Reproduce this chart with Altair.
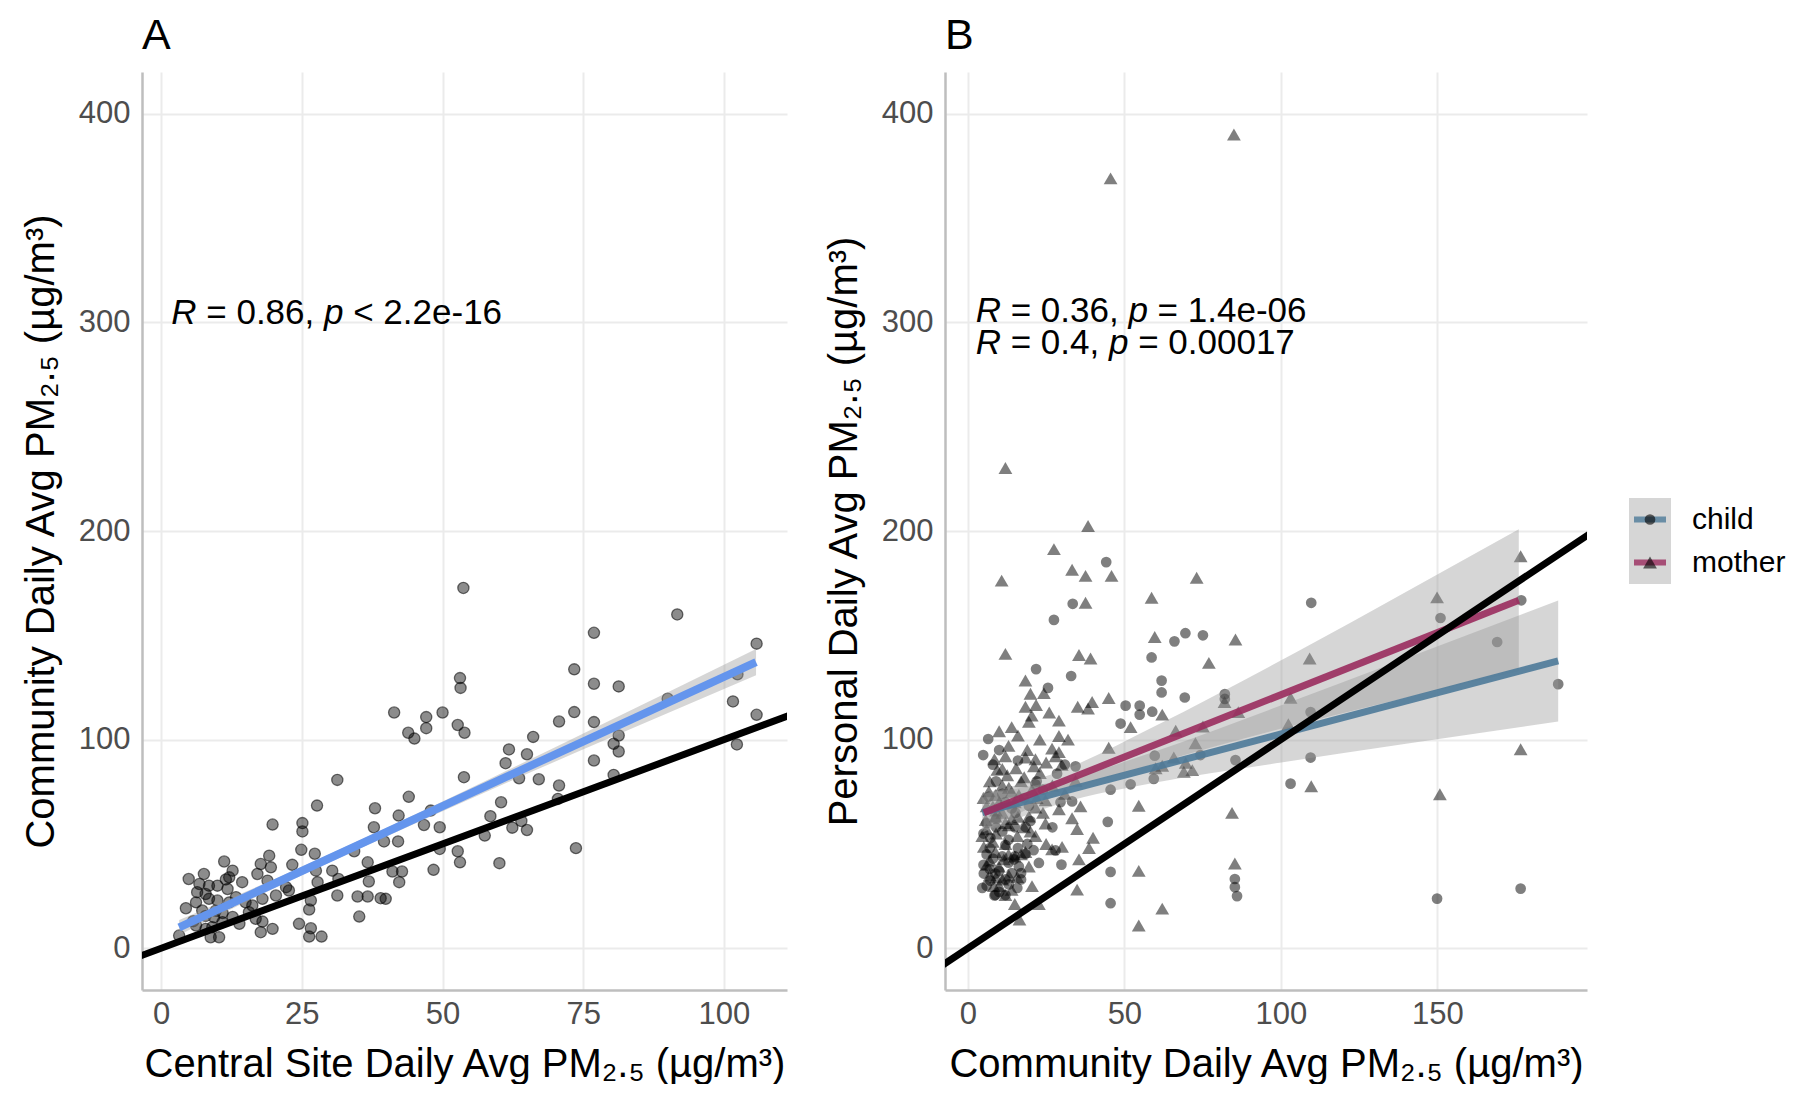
import altair as alt
import pandas as pd

FONT = "Liberation Sans"

# ---------------- Panel A data (Central site vs Community) ----------------
a_x = [53.7, 53.1, 53.2, 41.4, 47.1, 50, 47.1, 43.9, 45, 52.7, 53.9, 53.8, 31.3, 44, 27.7, 38, 42.2, 47.9,
       25.1, 25.1, 19.8, 37.8, 46.7, 49.5, 39.6, 42.1, 52.7, 53.1, 49.5, 24.9, 27.3, 34.3, 36.7, 23.3, 19.2,
       30.4, 27.5, 27.8, 31.5, 36.9, 41.1, 42.8, 42.3, 48.4, 31.3, 34.9, 36.7, 39, 39.9, 35.2, 26.6, 26.3,
       24.5, 26.6, 26.3, 28.5, 17.7, 19.8, 18, 16.8, 11.2, 7.6, 4.9, 12.7, 12.1, 14.4, 17.7, 19.5, 17.1, 18.9,
       22.2, 22.7, 6.8, 8.5, 7.9, 6.4, 11.8, 13.3, 12.1, 10, 4.4, 3.2, 7.3, 9.4, 8.8, 10.3, 10.9, 13.9, 15.6,
       20.4, 18, 16.2, 6.2, 7.9, 9.1, 5.7, 9.7, 10.9, 12.7, 7.9, 15, 8.5, 6.2, 10, 11.5,
       91.7, 76.9, 105.8, 73.4, 76.9, 81.3, 102.4, 90, 101.6, 105.8, 73.4, 70.7, 76.9, 81.3, 80.4, 81.3, 102.3,
       76.9, 80.4, 70.7, 73.7,
       61.8, 61.2, 65, 66.1, 67.1, 63.6, 60.4, 64, 62.4, 65, 70.5, 60.1, 57.5, 58.5]
a_y = [172.7, 129.5, 124.8, 113, 110.8, 113, 105.5, 103.3, 100.5, 107, 103.3, 82, 80.7, 72.6, 68.4, 67.1, 63.6, 66,
       60, 56, 59.3, 58, 59.1, 58, 51.2, 51.2, 46.5, 41.2, 47.6, 47.2, 45.3, 46.5, 41.2, 40, 44.4,
       37.2, 37.2, 31.7, 33.2, 32, 36.8, 36.8, 31.7, 37.6, 25.3, 24.8, 24.8, 24, 23.7, 15.2, 22.9, 18.6,
       11.7, 9.6, 5.6, 5.6, 7.7, 9.3, 12.8, 14.1, 41.6, 35.6, 33.2, 37.2, 34, 31.7, 40.4, 38.8, 35.6, 32.4,
       29.3, 27.7, 30.8, 30, 26, 26.9, 28.4, 24.5, 22, 22.9, 19.2, 6.1, 18.1, 14.9, 5.3, 5.3, 12.5, 11.7, 17.3,
       25.3, 23.7, 20.5, 10.9, 9.3, 10.1, 13, 18, 16.9, 15, 15.5, 22, 23.7, 22, 30, 33,
       160, 151.2, 146, 133.7, 126.8, 125.5, 131.3, 119.6, 118.3, 111.9, 113.2, 108.7, 108.4, 102, 98, 94.3, 97.7,
       90, 83.1, 78, 48,
       95.3, 88.7, 93, 101.3, 81, 81.5, 70, 61, 57.8, 56.7, 71.6, 40.8, 54, 63.3]

# fitted line and confidence band
fit_a_x = [3.2, 105.7]
fit_a_y = [10.0, 137.2]
band_a_x = [3.2, 20, 40, 60, 80, 105.7]
band_a_lo = [6.4, 28.6, 53.6, 77.7, 101.1, 130.9]
band_a_hi = [13.6, 33.0, 57.6, 83.3, 109.5, 143.5]

# 1:1 reference line
ident = [-20, 420]

# ---------------- Panel B data (Community vs Personal) ----------------
child_x = [44.2, 33.5, 27.5, 66, 69.5, 75.1, 58.7, 21.8, 33, 25.6, 61.9, 61.9, 69.3, 50.4, 54.9, 54.9, 58.9, 48.8,
           82.1, 82.1, 6.5, 4.9, 59.7, 74.3, 52, 59.4, 45.6, 85.5, 34.4, 33.3, 44.7, 29.9, 45.6, 45.6, 85.3, 85.3,
           86, 4.6, 7.2, 8.8, 12, 15.8, 18.4, 22.7, 16.3, 21.6, 29.6, 6.7, 12, 7.2, 14.7, 8.8, 13.1, 5.1, 19.5,
           15.2, 28.5, 28, 18.4, 8.5,
           109.7, 151, 169.1, 176.8, 188.6, 109.5, 109.5, 103.1, 149.9, 176.6,
           6, 8, 11, 14, 18, 22, 9, 6, 10, 12, 16, 20, 27, 31, 24,
           5, 7, 9, 11, 13, 15, 17, 19, 21, 8, 10, 12, 14, 6, 16,
           5, 7, 10, 13, 17, 9, 11, 15]
child_y = [185.1, 165.1, 157.4, 147.1, 151, 150, 139.4, 133.8, 130.5, 124.8, 128.3, 122.6, 120.2, 116.3, 116.3, 112,
           113.4, 107.7, 121.8, 119.5, 100.3, 92.6, 92.3, 92.6, 78.6, 81.2, 76, 90.2, 87.2, 70.4, 60.6, 40.1, 36.6,
           21.6, 33.2, 29.3, 25, 28.9, 32.4, 25.5, 25.5, 28.9, 58.1, 40.9, 39.2, 78.6, 70, 72.6, 49.5, 52.9, 42.6,
           35.8, 30.6, 35.8, 68.3, 64.9, 83.7, 46.9, 45.2, 25.3,
           165.6, 158.3, 146.8, 166.8, 126.6, 113.2, 91.4, 78.9, 23.8, 28.6,
           60, 43, 56, 67, 72, 80, 80, 45, 37, 33, 48, 61, 58, 88, 76,
           55, 38, 62, 44, 52, 58, 33, 50, 47, 88, 95, 70, 36, 30, 90,
           40, 48, 27, 41, 36, 58, 74, 44]

mother_x = [85, 45.6, 12, 38.4, 27.5, 33.3, 37.6, 45.9, 10.8, 73.1, 37.6, 58.7, 59.7, 85.5, 12, 35.5, 39.2, 77,
            18.4, 24.3, 18.4, 21.8, 20.4, 19.5, 35.1, 38.4, 39.7, 45, 29.1, 29.1, 62.1, 52, 82, 86.4, 66.4, 75.1,
            45, 26.9, 29.1, 72.7, 65.8, 69.6, 71.7, 69, 60, 62.1, 54.6, 84.4, 85.3, 54.6, 62.1, 54.6, 34.9, 38.7,
            35.5, 30.1, 26.9, 22.7, 15, 16.5, 8.5, 9.4, 12.6, 15.4, 18.4, 21.6, 21.1, 13.1, 6.7, 8.8, 5.7, 8.8,
            13.1, 15.8, 19.5, 21.6, 24.8, 18.4, 4.6, 5.1, 8.8, 11.5, 9.9, 13.1, 15.8, 19.5, 8.3, 12, 20.5, 34.4,
            33.3, 34.9, 24.8, 29.1, 21.6, 16.3, 20.5,
            176.6, 149.9, 109.2, 103.1, 102.4, 109.7, 176.6, 150.8,
            7, 10, 11, 6, 14, 17, 23, 25, 12, 17, 7, 10, 14, 9, 20, 24, 27, 31, 36, 40, 30, 32, 26, 14, 10,
            5, 6, 8, 9, 11, 12, 13, 15, 16, 18, 19, 22, 23, 25, 28, 7, 11, 13, 16, 20,
            6, 9, 12, 15, 18, 8, 11, 14]
mother_y = [390, 369, 230.2, 202.4, 191.3, 181.4, 178.5, 178.5, 176.2, 177.6, 165.6, 168, 149.2, 148, 141.1, 140.6,
            138.9, 136.8, 128.3, 122.3, 115.8, 116.6, 111.5, 108.6, 115.8, 114.9, 118, 120, 109.1, 101.7, 112, 106,
            118, 113.2, 104.3, 106.3, 96.1, 95.7, 94, 98.3, 91.4, 88.9, 85.4, 84.6, 86.3, 87.5, 68.3, 64.9, 40.6,
            37.1, 19, 10.9, 28.1, 48.1, 42.6, 48.6, 47.4, 21.2, 21.2, 13.8, 90.6, 85.5, 82.9, 86.3, 91.4, 90.6,
            87.2, 76.9, 75.2, 73.5, 61.5, 63.2, 58.9, 53.8, 63.2, 53.8, 59.8, 46.1, 53.8, 48.6, 46.1, 42.6, 39.2,
            34.9, 34.1, 39.2, 29.8, 25.5, 29.8, 80.3, 62.3, 57.2, 70.9, 66.6, 67.5, 73.5, 76,
            187.9, 168.2, 138.9, 120.1, 107.4, 77.7, 95.4, 73.8,
            80, 70, 65, 68, 62, 80, 84, 89, 50, 45, 42, 30, 28, 55, 56, 65, 78, 74, 68, 53, 88, 100, 113, 106, 104,
            72, 57, 51, 66, 78, 92, 45, 70, 63, 82, 95, 72, 100, 50, 92, 35, 33, 97, 102, 122,
            40, 34, 60, 44, 58, 68, 86, 75]

groups = ["child", "mother"]
group_colors = ["#4E7A99", "#9A2C5E"]
group_shapes = ["circle", "triangle-up"]
group_sizes = [115, 190]

# fitted lines and bands
fit_child_x = [4.6, 188.6]
fit_child_y = [65.0, 137.7]
band_child_x = [4.6, 30, 60, 96, 140, 188.6]
band_child_lo = [55.5, 69.5, 79.4, 88.1, 98.0, 108.7]
band_child_hi = [74.5, 80.5, 94.4, 114.1, 139.0, 166.7]

fit_mother_x = [5.1, 176.0]
fit_mother_y = [64.9, 166.8]
band_mother_x = [5.1, 30, 60, 96, 130, 176]
band_mother_lo = [55.9, 74.2, 88.6, 103.7, 116.5, 132.8]
band_mother_hi = [73.9, 85.2, 106.6, 134.7, 162.5, 200.8]

# correlation annotations: (italic?, text) segments
ann_a = [[(True, "R"), (False, "= 0.86,"), (True, "p"), (False, "< 2.2e-16")]]
ann_b = [[(True, "R"), (False, "= 0.36,"), (True, "p"), (False, "= 1.4e-06")],
         [(True, "R"), (False, "= 0.4,"), (True, "p"), (False, "= 0.00017")]]
ann_a_pos = [(1.8, 299.0)]
ann_b_pos = [(2.5, 300.0), (2.5, 285.0)]

# ---------------- helpers ----------------
ARIAL = {"R": 722, " ": 278, "=": 584, "0": 556, "1": 556, "2": 556, "3": 556, "4": 556, "5": 556, "6": 556,
         "7": 556, "8": 556, "9": 556, ".": 278, ",": 278, "p": 556, "<": 584, "e": 556, "-": 333}
ANN_SIZE = 35


def seg_width(s):
    return sum(ARIAL.get(c, 556) for c in s) / 1000.0 * ANN_SIZE


def annotation_layers(lines, positions, xenc, yenc):
    layers = []
    for segs, (px, py) in zip(lines, positions):
        df = pd.DataFrame({"x": [px], "y": [py]})
        off = 0.0
        for italic, txt in segs:
            layers.append(
                alt.Chart(df).mark_text(
                    text=txt, align="left", baseline="alphabetic", font=FONT, fontSize=ANN_SIZE,
                    fontStyle="italic" if italic else "normal", color="black", dx=off
                ).encode(x=xenc("x"), y=yenc("y"))
            )
            off += seg_width(txt) + seg_width(" ")
    return layers


Y_SCALE = alt.Scale(domain=[-20, 420], nice=False, zero=False)
LEFT_AXIS = dict(values=[0, 100, 200, 300, 400], labelPadding=12, titlePadding=17)
BOTTOM_AXIS = dict(labelPadding=9, titlePadding=15)

title_a_x = "Central Site Daily Avg PM\u2082.\u2085 (\u00b5g/m\u00b3)"
title_a_y = "Community Daily Avg PM\u2082.\u2085 (\u00b5g/m\u00b3)"
title_b_x = "Community Daily Avg PM\u2082.\u2085 (\u00b5g/m\u00b3)"
title_b_y = "Personal Daily Avg PM\u2082.\u2085 (\u00b5g/m\u00b3)"


def xa(field):
    return alt.X(f"{field}:Q", scale=alt.Scale(domain=[-3.4, 111.2], nice=False, zero=False),
                 axis=alt.Axis(values=[0, 25, 50, 75, 100], title=title_a_x, **BOTTOM_AXIS))


def ya(field):
    return alt.Y(f"{field}:Q", scale=Y_SCALE, axis=alt.Axis(title=title_a_y, **LEFT_AXIS))


def xb(field):
    return alt.X(f"{field}:Q", scale=alt.Scale(domain=[-7.3, 197.8], nice=False, zero=False),
                 axis=alt.Axis(values=[0, 50, 100, 150], title=title_b_x, **BOTTOM_AXIS))


def yb(field):
    return alt.Y(f"{field}:Q", scale=Y_SCALE, axis=alt.Axis(title=title_b_y, **LEFT_AXIS))


PANEL_TITLE = dict(anchor="start", frame="group", fontSize=43, font=FONT, fontWeight="normal",
                   color="black", offset=14)
PLOT_H = 918

# ---------------- Panel A ----------------
pts_a = pd.DataFrame({"x": a_x, "y": a_y})
ident_df = pd.DataFrame({"x": ident, "y": ident})
fit_a = pd.DataFrame({"x": fit_a_x, "y": fit_a_y})
band_a = pd.DataFrame({"x": band_a_x, "lo": band_a_lo, "hi": band_a_hi})

layer_pts_a = alt.Chart(pts_a).mark_circle(
    size=125, color="black", fillOpacity=0.45, stroke="black", strokeOpacity=0.55, strokeWidth=1.3
).encode(x=xa("x"), y=ya("y"))
layer_ident_a = alt.Chart(ident_df).mark_line(color="black", strokeWidth=7, clip=True).encode(x=xa("x"), y=ya("y"))
layer_band_a = alt.Chart(band_a).mark_area(color="#999999", opacity=0.4, interpolate="monotone").encode(
    x=xa("x"), y=ya("lo"), y2="hi:Q")
layer_fit_a = alt.Chart(fit_a).mark_line(color="#6495ED", strokeWidth=8).encode(x=xa("x"), y=ya("y"))

panel_a = alt.layer(
    layer_pts_a, layer_ident_a, layer_band_a, layer_fit_a,
    *annotation_layers(ann_a, ann_a_pos, xa, ya)
).properties(width=645, height=PLOT_H, title=alt.TitleParams("A", **PANEL_TITLE))

# ---------------- Panel B ----------------
pts_b = pd.concat([
    pd.DataFrame({"x": child_x, "y": child_y, "group": "child"}),
    pd.DataFrame({"x": mother_x, "y": mother_y, "group": "mother"}),
])
fit_b = pd.concat([
    pd.DataFrame({"x": fit_child_x, "y": fit_child_y, "group": "child"}),
    pd.DataFrame({"x": fit_mother_x, "y": fit_mother_y, "group": "mother"}),
])
band_b = pd.concat([
    pd.DataFrame({"x": band_child_x, "lo": band_child_lo, "hi": band_child_hi, "group": "child"}),
    pd.DataFrame({"x": band_mother_x, "lo": band_mother_lo, "hi": band_mother_hi, "group": "mother"}),
])

color_scale = alt.Scale(domain=groups, range=group_colors)
shape_scale = alt.Scale(domain=groups, range=group_shapes)
size_scale = alt.Scale(domain=groups, range=group_sizes)

layer_pts_b = alt.Chart(pts_b).mark_point(filled=True, color="black", opacity=0.5).encode(
    x=xb("x"), y=yb("y"),
    shape=alt.Shape("group:N", scale=shape_scale, legend=None),
    size=alt.Size("group:N", scale=size_scale, legend=None))
layer_band_b = alt.Chart(band_b).mark_area(color="#999999", opacity=0.4, interpolate="monotone").encode(
    x=xb("x"), y=yb("lo"), y2="hi:Q", detail="group:N")
layer_fit_b = alt.Chart(fit_b).mark_line(strokeWidth=7, opacity=0.9).encode(
    x=xb("x"), y=yb("y"), color=alt.Color("group:N", scale=color_scale, legend=None))
layer_ident_b = alt.Chart(ident_df).mark_line(color="black", strokeWidth=7, clip=True).encode(x=xb("x"), y=yb("y"))

panel_b = alt.layer(
    layer_pts_b, layer_band_b, layer_fit_b, layer_ident_b,
    *annotation_layers(ann_b, ann_b_pos, xb, yb)
).properties(width=642, height=PLOT_H, title=alt.TitleParams("B", **PANEL_TITLE))

# ---------------- Legend (keys drawn from the group categories) ----------------
SPACING = 158
LEG_X0 = 42 - SPACING          # keys start 42px right of panel B's plot area
LEG_TOP = 426                  # keys start this far below the plot top
leg_df = pd.DataFrame({"group": groups})
leg_y = alt.Y("group:N", scale=alt.Scale(domain=groups, range=[LEG_TOP, LEG_TOP + 86],
                                         paddingInner=0, paddingOuter=0), axis=None)
leg_bg = alt.Chart(leg_df).mark_rect(color="#D6D6D6").encode(
    x=alt.value(LEG_X0), x2=alt.value(LEG_X0 + 42), y=leg_y)
leg_line = alt.Chart(leg_df).mark_rule(strokeWidth=6, opacity=0.8).encode(
    x=alt.value(LEG_X0 + 5), x2=alt.value(LEG_X0 + 37), y=leg_y,
    color=alt.Color("group:N", scale=color_scale, legend=None))
leg_pt = alt.Chart(leg_df).mark_point(filled=True, color="black", opacity=0.6).encode(
    x=alt.value(LEG_X0 + 21), y=leg_y,
    shape=alt.Shape("group:N", scale=shape_scale, legend=None),
    size=alt.Size("group:N", scale=size_scale, legend=None))
leg_txt = alt.Chart(leg_df).mark_text(align="left", baseline="middle", font=FONT, fontSize=30,
                                      color="black").encode(x=alt.value(LEG_X0 + 63), y=leg_y, text="group:N")
legend = alt.layer(leg_bg, leg_line, leg_pt, leg_txt).properties(width=1, height=PLOT_H)

chart = alt.hconcat(panel_a, panel_b, legend, spacing=SPACING, bounds="flush").resolve_scale(
    x="independent", y="independent", color="independent", shape="independent", size="independent"
).properties(
    padding={"left": 13, "top": 7, "right": 0, "bottom": 0}
).configure_view(stroke=None).configure_axis(
    labelFont=FONT, labelFontSize=31, labelColor="#4D4D4D",
    titleFont=FONT, titleFontSize=40, titleFontWeight="normal", titleColor="black",
    gridColor="#EBEBEB", gridWidth=2, domainColor="#BEBEBE", domainWidth=2.5, ticks=False
)

chart.save("out.html", embed_options={"renderer": "svg", "actions": False})
